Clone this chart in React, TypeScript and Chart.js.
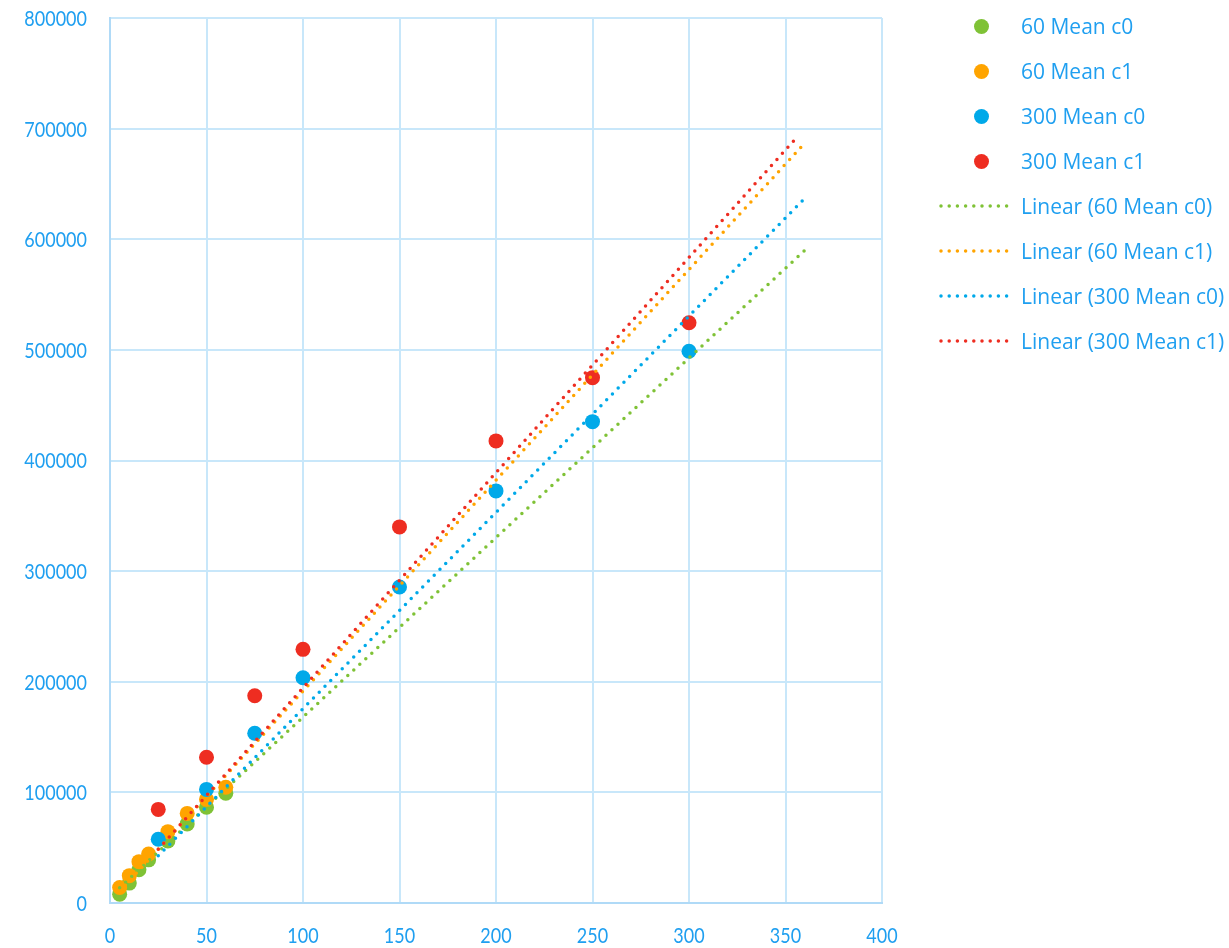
import React, { useEffect, useRef } from "react";
import { Chart, registerables } from "chart.js";

Chart.register(...registerables);

// ---- data ----
const xs60 = [5, 10, 15, 20, 30, 40, 50, 60];
const mean60c0 = [8000, 18000, 30000, 39000, 56000, 71500, 86500, 99300];
const mean60c1 = [14000, 24700, 37400, 44300, 64500, 81000, 93700, 104600];

const xs300 = [25, 50, 75, 100, 150, 200, 250, 300];
const mean300c0 = [57600, 102700, 153400, 203600, 285700, 372500, 435100, 498800];
const mean300c1 = [84600, 131700, 187300, 229300, 340000, 417700, 474900, 524500];

// trendline endpoints
const trend60c0X = [5, 360];
const trend60c0Y = [13800, 590000];
const trend60c1X = [5, 360];
const trend60c1Y = [10500, 687000];
const trend300c0X = [25, 360];
const trend300c0Y = [42600, 637000];
const trend300c1X = [25, 355];
const trend300c1Y = [48600, 690500];

const xTicks = [0, 50, 100, 150, 200, 250, 300, 350, 400];
const yTicks = [0, 100000, 200000, 300000, 400000, 500000, 600000, 700000, 800000];

const seriesNames = ["60 Mean c0", "60 Mean c1", "300 Mean c0", "300 Mean c1"];
const trendNames = [
  "Linear (60 Mean c0)",
  "Linear (60 Mean c1)",
  "Linear (300 Mean c0)",
  "Linear (300 Mean c1)",
];
const colors = ["#7fc236", "#ffa400", "#00a9e9", "#ee2d21"];

const TEXT = "#1f9ff0";
const GRID = "#c8e7fa";
const AXIS = "#b0daf7";
const TICK_FONT = "18px Lato, 'Open Sans', sans-serif";
const LEGEND_FONT = "'Open Sans', sans-serif";

const zip = (a: number[], b: number[]) => a.map((x, i) => ({ x, y: b[i] }));

// draws the axes' tick labels (values from the scales) slightly stretched vertically,
// like the narrow, tall labels of the original
const tickLabelPlugin = {
  id: "tallTickLabels",
  afterDraw(chart: any) {
    const ctx = chart.ctx;
    const xs = chart.scales.x;
    const ys = chart.scales.y;
    ctx.save();
    ctx.font = TICK_FONT;
    ctx.fillStyle = TEXT;
    ctx.textBaseline = "middle";
    ctx.textAlign = "right";
    ys.ticks.forEach((t: any) => {
      const py = ys.getPixelForValue(t.value);
      ctx.save();
      ctx.translate(ys.right - 23, py + 1);
      ctx.scale(1, 1.2);
      ctx.fillText(String(t.value), 0, 0);
      ctx.restore();
    });
    ctx.textAlign = "center";
    xTicks.forEach((v) => {
      const px = xs.getPixelForValue(v);
      ctx.save();
      ctx.translate(px, xs.top + 33);
      ctx.scale(1, 1.2);
      ctx.fillText(String(v), 0, 0);
      ctx.restore();
    });
    ctx.restore();
  },
};

export default function App() {
  const ref = useRef<HTMLCanvasElement | null>(null);

  useEffect(() => {
    if (!ref.current) return;
    const pts = [
      zip(xs60, mean60c0),
      zip(xs60, mean60c1),
      zip(xs300, mean300c0),
      zip(xs300, mean300c1),
    ];
    const trends = [
      zip(trend60c0X, trend60c0Y),
      zip(trend60c1X, trend60c1Y),
      zip(trend300c0X, trend300c0Y),
      zip(trend300c1X, trend300c1Y),
    ];
    const datasets: any[] = [];
    pts.forEach((d, i) => {
      datasets.push({
        label: seriesNames[i],
        data: d,
        showLine: false,
        pointRadius: 7.5,
        pointBorderWidth: 0,
        backgroundColor: colors[i],
        borderColor: colors[i],
        order: 8 - i,
      });
    });
    trends.forEach((d, i) => {
      datasets.push({
        label: trendNames[i],
        data: d,
        showLine: true,
        pointRadius: 0,
        borderColor: colors[i],
        borderWidth: 3.5,
        borderDash: [0, 8.2],
        borderCapStyle: "round",
        fill: false,
        order: 4 - i,
      });
    });

    const chart = new Chart(ref.current, {
      type: "scatter",
      data: { datasets },
      plugins: [tickLabelPlugin],
      options: {
        animation: false,
        responsive: false,
        layout: { padding: { top: 18, right: 347, left: 0, bottom: 0 } },
        plugins: { legend: { display: false }, tooltip: { enabled: false } },
        scales: {
          x: {
            type: "linear",
            min: 0,
            max: 400,
            afterBuildTicks: (s: any) => {
              s.ticks = xTicks.map((v) => ({ value: v }));
            },
            afterFit: (s: any) => {
              s.height = 45;
              s.paddingLeft = 0;
              s.paddingRight = 0;
            },
            grid: { color: GRID, lineWidth: 2, drawTicks: false },
            border: { color: AXIS, width: 2 },
            ticks: { display: false },
          },
          y: {
            type: "linear",
            min: 0,
            max: 800000,
            afterBuildTicks: (s: any) => {
              s.ticks = yTicks.map((v) => ({ value: v }));
            },
            afterFit: (s: any) => {
              s.width = 110;
              s.paddingTop = 0;
              s.paddingBottom = 0;
            },
            grid: { color: GRID, lineWidth: 2, drawTicks: false },
            border: { color: AXIS, width: 2 },
            ticks: { display: false },
          },
        },
      },
    });
    return () => chart.destroy();
  }, []);

  const rowY = (i: number) => 26 + i * 45;

  return (
    <div style={{ position: "absolute", left: 0, top: 0, width: 1229, height: 948, background: "#fff" }}>
      <canvas ref={ref} width={1229} height={948} style={{ position: "absolute", left: 0, top: 0 }} />
      {seriesNames.map((n, i) => (
        <React.Fragment key={n}>
          <div
            style={{
              position: "absolute",
              left: 981 - 7.5,
              top: rowY(i) - 7.5,
              width: 15,
              height: 15,
              borderRadius: 7.5,
              background: colors[i],
            }}
          />
          <div
            style={{
              position: "absolute",
              left: 1021,
              top: rowY(i) - 15,
              lineHeight: "30px",
              fontFamily: LEGEND_FONT,
              fontSize: 21,
              color: TEXT,
              whiteSpace: "nowrap",
            }}
          >
            {n}
          </div>
        </React.Fragment>
      ))}
      {trendNames.map((n, j) => {
        const i = j + 4;
        return (
          <React.Fragment key={n}>
            <svg
              style={{ position: "absolute", left: 936, top: rowY(i) - 4 }}
              width={82}
              height={8}
            >
              <line
                x1={5}
                y1={4}
                x2={78}
                y2={4}
                stroke={colors[j]}
                strokeWidth={3.5}
                strokeDasharray="0 8.2"
                strokeLinecap="round"
              />
            </svg>
            <div
              style={{
                position: "absolute",
                left: 1021,
                top: rowY(i) - 15,
                lineHeight: "30px",
                fontFamily: LEGEND_FONT,
                fontSize: 21,
                color: TEXT,
                whiteSpace: "nowrap",
              }}
            >
              {n}
            </div>
          </React.Fragment>
        );
      })}
    </div>
  );
}
